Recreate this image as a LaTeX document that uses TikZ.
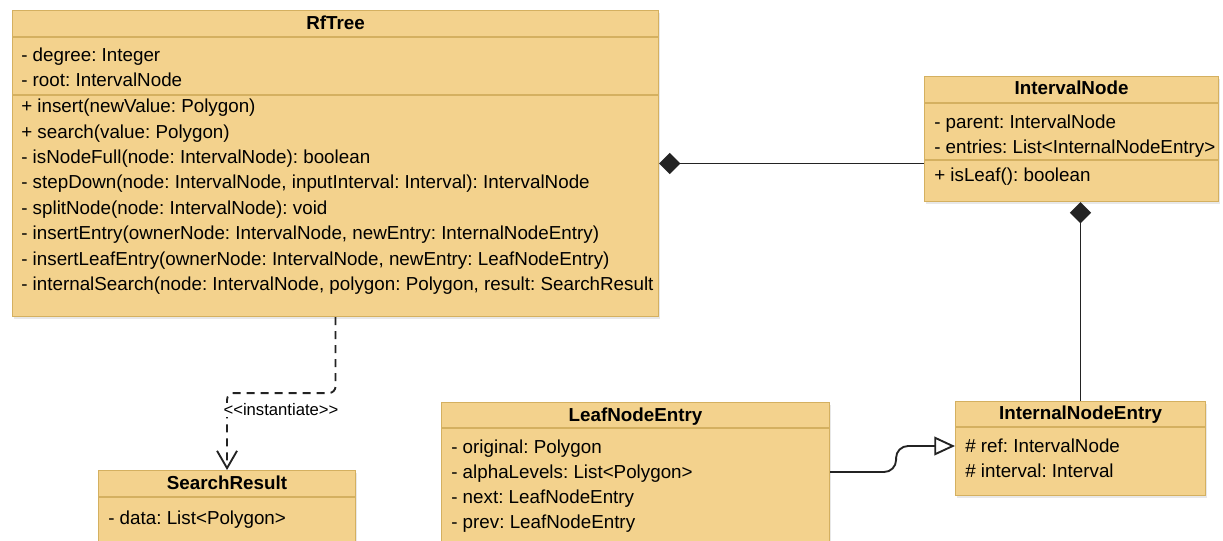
\documentclass[tikz,border=0pt]{standalone}
\usepackage{fontspec}
\setmainfont{Liberation Sans}
\frenchspacing
\usetikzlibrary{arrows.meta,calc,shadows}

\definecolor{classfill}{RGB}{243,210,141}
\definecolor{classline}{RGB}{212,176,96}
\definecolor{edgecol}{RGB}{35,35,35}

\tikzset{
  classbox/.style={draw=classline, fill=classfill, line width=0.8pt, anchor=north west, inner sep=0pt,
    drop shadow={opacity=0.18, shadow xshift=1.2pt, shadow yshift=-1.8pt}},
  classtitle/.style={font=\fontsize{14.1}{17}\selectfont\bfseries, inner sep=0pt, text height=10pt, text depth=0pt},
  member/.style={font=\fontsize{14.1}{17}\selectfont, anchor=west, inner sep=0pt, text height=10pt, text depth=0pt},
  sepline/.style={draw=classline, line width=0.8pt},
  composition/.style={draw=edgecol, line width=1.4pt, {Diamond[length=16pt,width=16pt]}-},
  generalization/.style={draw=edgecol, line width=1.4pt, rounded corners=9pt, -{Triangle[length=15.5pt,width=14pt,fill=white]}},
  instdep/.style={draw=edgecol, line width=1.4pt, dash pattern=on 6pt off 4.5pt, rounded corners=5pt, -{Straight Barb[length=13pt,width=15pt]}},
  stereo/.style={font=\fontsize{12.5}{15}\selectfont, fill=white, inner sep=1pt}
}

\begin{document}
\begin{tikzpicture}[x=0.75pt, y=-0.75pt]
    \clip (0,0) rectangle (1223,540);
    \fill[white] (0,0) rectangle (1223,540);

    % class boxes
    \node [classbox, minimum width=484.5pt, minimum height=229.5pt] (rftree) at (12,10) {};
    \node [classbox, minimum width=220.5pt, minimum height=93.75pt] (intervalnode) at (924,76) {};
    \node [classbox, minimum width=291pt, minimum height=118.5pt] (leafentry) at (441,402) {};
    \node [classbox, minimum width=192.75pt, minimum height=67.5pt] (searchresult) at (98,470) {};
    \node [classbox, minimum width=187.5pt, minimum height=70.5pt] (internalentry) at (955,401) {};

    % compartments
    \draw [sepline] ($(rftree.north west)+(0,27)$) -- ($(rftree.north east)+(0,27)$);
    \draw [sepline] ($(rftree.north west)+(0,85)$) -- ($(rftree.north east)+(0,85)$);
    \draw [sepline] ($(intervalnode.north west)+(0,27)$) -- ($(intervalnode.north east)+(0,27)$);
    \draw [sepline] ($(intervalnode.north west)+(0,84)$) -- ($(intervalnode.north east)+(0,84)$);
    \draw [sepline] ($(leafentry.north west)+(0,26)$) -- ($(leafentry.north east)+(0,26)$);
    \draw [sepline] ($(searchresult.north west)+(0,27)$) -- ($(searchresult.north east)+(0,27)$);
    \draw [sepline] ($(internalentry.north west)+(0,26)$) -- ($(internalentry.north east)+(0,26)$);

    % titles
    \node [classtitle] (rftree-title) at ($(rftree.north)+(0,13)$) {RfTree};
    \node [classtitle] (intervalnode-title) at ($(intervalnode.north)+(0,12)$) {IntervalNode};
    \node [classtitle] (leafentry-title) at ($(leafentry.north)+(0,13)$) {LeafNodeEntry};
    \node [classtitle] (searchresult-title) at ($(searchresult.north)+(0,13)$) {SearchResult};
    \node [classtitle] (internalentry-title) at ($(internalentry.north)+(0,12)$) {InternalNodeEntry};

    % RfTree members
    \node [member] (rf-at1) at (21,55) {- degree: Integer};
    \node [member] (rf-at2) at (21,80) {- root: IntervalNode};
    \foreach \txt [count=\i] in {
        {+ insert(newValue: Polygon)},
        {+ search(value: Polygon)},
        {- isNodeFull(node: IntervalNode): boolean},
        {- stepDown(node: IntervalNode, inputInterval: Interval): IntervalNode},
        {- splitNode(node: IntervalNode): void},
        {- insertEntry(ownerNode: IntervalNode, newEntry: InternalNodeEntry)},
        {- insertLeafEntry(ownerNode: IntervalNode, newEntry: LeafNodeEntry)},
        {- internalSearch(node: IntervalNode, polygon: Polygon, result: SearchResult}}
      \node [member] (rf-op\i) at (21,{80.6+25.4*\i}) {\txt};

    % IntervalNode members
    \node [member] (in-at1) at (934,122) {- parent: IntervalNode};
    \node [member] (in-at2) at (934,147) {- entries: List<InternalNodeEntry>};
    \node [member] (in-op1) at (934,175) {+ isLeaf(): boolean};

    % LeafNodeEntry members
    \foreach \txt [count=\i] in {
        {- original: Polygon},
        {- alphaLevels: List<Polygon>},
        {- next: LeafNodeEntry},
        {- prev: LeafNodeEntry}}
      \node [member] (leaf-at\i) at (451,{422+25*\i}) {\txt};

    % SearchResult members
    \node [member] (sr-at1) at (108,518) {- data: List<Polygon>};

    % InternalNodeEntry members
    \node [member] (ine-at1) at (965,446) {\# ref: IntervalNode};
    \node [member] (ine-at2) at (965,471) {\# interval: Interval};

    % relations
    \draw [composition] (rftree.east) -- (rftree.east -| intervalnode.west);
    \draw [composition] (internalentry.north |- intervalnode.south) -- (internalentry.north);
    \draw [generalization] (leaf-at2 -| leafentry.east) -- ++(66,0) |- (ine-at1 -| internalentry.west);
    \draw [instdep] (rftree.south) -- ++(0,76) -| (searchresult.north);
    \node [stereo] (inst-label) at (281,410) {<\kern0pt<instantiate>\kern0pt>};
\end{tikzpicture}
\end{document}
